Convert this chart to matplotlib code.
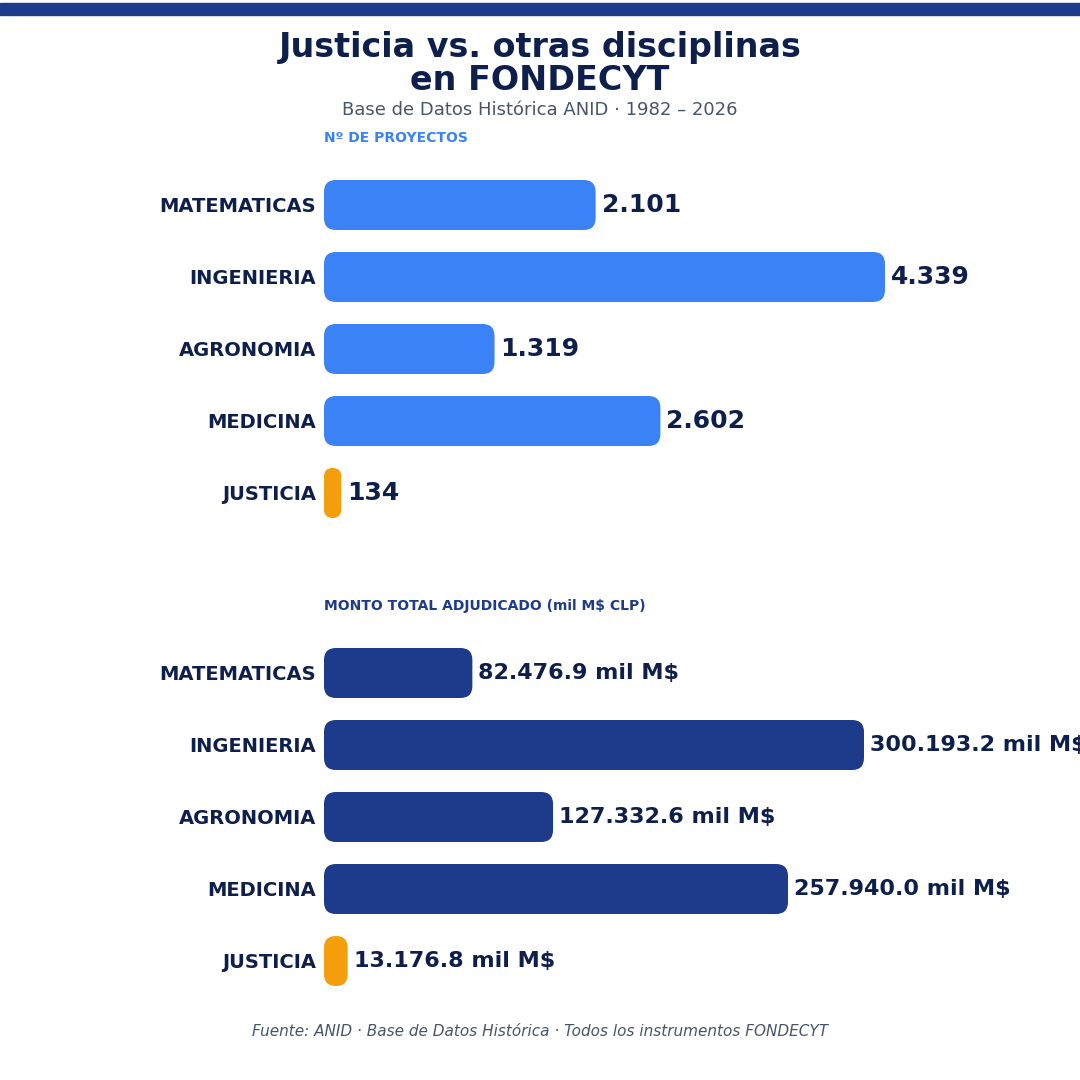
import matplotlib
matplotlib.use("Agg")
import matplotlib.pyplot as plt
from matplotlib.patches import FancyBboxPatch, Rectangle

categories = ["MATEMATICAS", "INGENIERIA", "AGRONOMIA", "MEDICINA", "JUSTICIA"]
proyectos = [2101, 4339, 1319, 2602, 134]
monto = [82476.9, 300193.2, 127332.6, 257940.0, 13176.8]
proy_labels = ["2.101", "4.339", "1.319", "2.602", "134"]
monto_labels = ["82.476.9 mil M$", "300.193.2 mil M$", "127.332.6 mil M$", "257.940.0 mil M$", "13.176.8 mil M$"]

BLUE = "#3B82F6"; NAVY = "#1E3A8A"; ORANGE = "#F59E0B"; TXT = "#0F1F4B"

W = H = 1080
fig = plt.figure(figsize=(10.8, 10.8), dpi=100)
fig.patches.append(Rectangle((0, 1 - 15/H), 1, 12/H, transform=fig.transFigure, color=NAVY))
fig.text(0.5, 1 - 48/H, "Justicia vs. otras disciplinas", ha="center", va="center", fontsize=24, weight="bold", color=TXT)
fig.text(0.5, 1 - 80/H, "en FONDECYT", ha="center", va="center", fontsize=24, weight="bold", color=TXT)
fig.text(0.5, 1 - 110/H, "Base de Datos Histórica ANID · 1982 – 2026", ha="center", va="center", fontsize=13, color="#475569")
fig.text(324/W, 1 - 138/H, "Nº DE PROYECTOS", ha="left", va="center", fontsize=10, weight="bold", color=BLUE)
fig.text(324/W, 1 - 606/H, "MONTO TOTAL ADJUDICADO (mil M$ CLP)", ha="left", va="center", fontsize=10, weight="bold", color=NAVY)
fig.text(0.5, 1 - 1031/H, "Fuente: ANID · Base de Datos Histórica · Todos los instrumentos FONDECYT", ha="center", va="center", fontsize=11, style="italic", color="#475569")

def panel(top_px, values, labels, color, maxpx, fs):
    ax = fig.add_axes([324/W, 1 - (top_px + 360)/H, 756/W, 360/H])
    xmax = max(values) * 756 / maxpx
    ax.set_xlim(0, xmax); ax.set_ylim(4.5, -0.5)
    ax.axis("off")
    xpp = xmax / 756; ypp = 1 / 72
    r = 12
    for i, (v, lab, cat) in enumerate(zip(values, labels, categories)):
        c = ORANGE if cat == "JUSTICIA" else color
        rs = min(r, v / xpp / 2)
        p = FancyBboxPatch((0, i - 25*ypp), v, 50*ypp,
                           boxstyle=f"round,pad=0,rounding_size={rs*xpp}",
                           mutation_aspect=ypp/xpp, fc=c, ec="none")
        ax.add_patch(p)
        ax.text(v + 6*xpp, i, lab, va="center", ha="left", fontsize=fs, weight="bold", color=TXT, clip_on=False)
        ax.text(-8*xpp, i + 2*ypp, cat, va="center", ha="right", fontsize=14, weight="bold", color=TXT, clip_on=False)

panel(169, proyectos, proy_labels, BLUE, 561, 18)
panel(637, monto, monto_labels, NAVY, 540, 16)
fig.savefig("out.png", dpi=100, facecolor="white")
